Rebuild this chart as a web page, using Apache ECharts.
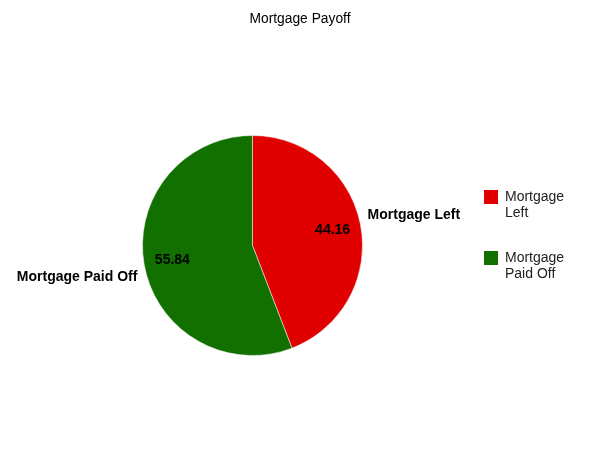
<!DOCTYPE html>
<html>
<head>
<meta charset="utf-8">
<script src="https://cdn.jsdelivr.net/npm/echarts@6/dist/echarts.min.js"></script>
<style>html,body{margin:0;padding:0;background:#fff}#c{width:600px;height:463px}</style>
</head>
<body>
<div id="c"></div>
<script>
const titleText = 'Mortgage Payoff';
const categories = ['Mortgage Left', 'Mortgage Paid Off'];
const legendLines = [['Mortgage', 'Left'], ['Mortgage', 'Paid Off']];
const values = [44.16, 55.84];
const colors = ['#e00000', '#117000'];

const chart = echarts.init(document.getElementById('c'), null, {renderer: 'canvas'});
const font = 'Arial, "Liberation Sans", sans-serif';
const dataMain = categories.map((c, i) => ({name: c, value: values[i], itemStyle: {color: colors[i]}}));

chart.setOption({
  animation: false,
  backgroundColor: '#fff',
  title: {
    text: titleText, left: 'center', top: 12, padding: 0,
    textStyle: {fontFamily: font, fontSize: 13.8, fontWeight: 'normal', color: '#000'}
  },
  legend: {
    orient: 'vertical', left: 484, top: 173, padding: 0,
    itemWidth: 14, itemHeight: 14, itemGap: 13, itemStyle: {borderWidth: 0},
    icon: 'rect', selectedMode: false,
    data: categories,
    formatter: name => {
      const l = legendLines[categories.indexOf(name)];
      return '{s| }\n{a|' + l[0] + '}\n{a|' + l[1] + '}';
    },
    textStyle: {
      fontFamily: font, fontSize: 14, color: '#222', lineHeight: 16,
      rich: {
        a: {fontFamily: font, fontSize: 14, color: '#222', lineHeight: 16, padding: [0, 0, 0, 2]},
        s: {fontFamily: font, fontSize: 14, lineHeight: 16}
      }
    }
  },
  series: [
    {
      type: 'pie', center: [252.5, 245.5], radius: 110, startAngle: 90, clockwise: true,
      silent: true,
      itemStyle: {borderWidth: 0.5, borderColor: '#fff'},
      label: {
        show: true, position: 'outside', formatter: '{b}',
        fontFamily: font, fontSize: 14, fontWeight: 'bold', color: '#000'
      },
      labelLine: {show: false, length: 2, length2: 0},
      labelLayout: params => ({dy: params.dataIndex === 0 ? -10 : 11}),
      data: dataMain
    },
    {
      type: 'pie', center: [252.5, 245.5], radius: [47, 110], startAngle: 90, clockwise: true,
      silent: true,
      itemStyle: {color: 'rgba(0,0,0,0)', borderWidth: 0},
      label: {
        show: true, position: 'inside', formatter: p => p.value.toFixed(2),
        fontFamily: font, fontSize: 14, fontWeight: 'bold', color: '#000'
      },
      labelLine: {show: false},
      data: categories.map((c, i) => ({name: c, value: values[i]}))
    }
  ]
});
</script>
</body>
</html>
